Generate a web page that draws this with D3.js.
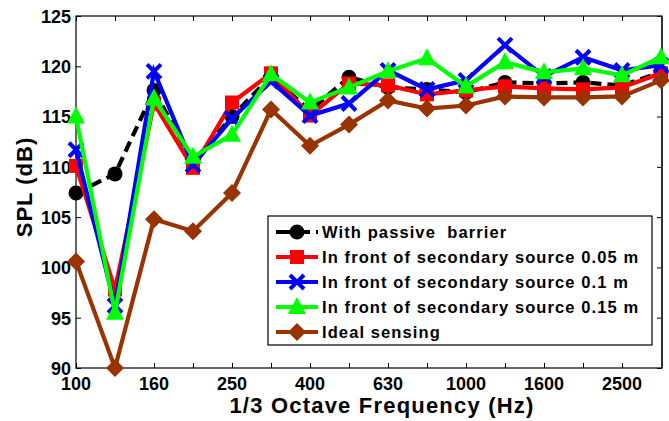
<!DOCTYPE html>
<html>
<head>
<meta charset="utf-8">
<script src="https://cdn.jsdelivr.net/npm/d3@7"></script>
<style>
  body { margin: 0; background: #fff; }
  text { font-family: "Liberation Sans", Arial, sans-serif; font-weight: bold; }
</style>
</head>
<body>
<svg id="chart" width="669" height="421"></svg>
<script>
"use strict";

// bandes de tiers d'octave
var frequences = ["100", "125", "160", "200", "250", "315", "400", "500", "630", "800", "1000", "1250", "1600", "2000", "2500", "3150"];
var etiquettesX = ["100", "160", "250", "400", "630", "1000", "1600", "2500"];
var ticksY = [90, 95, 100, 105, 110, 115, 120, 125];

var barriere = [107.4, 109.3, 117.6, 110.5, 115.0, 119.0, 115.6, 118.9, 117.9, 117.7, 117.4, 118.4, 118.3, 118.4, 118.1, 119.4];
var source005 = [110.1, 97.8, 116.3, 109.9, 116.4, 119.3, 115.1, 118.3, 118.1, 117.2, 117.6, 118.0, 117.8, 117.7, 117.9, 119.3];
var source01 = [111.7, 96.2, 119.5, 110.2, 114.8, 118.5, 115.1, 116.3, 119.6, 117.7, 118.6, 122.1, 119.0, 120.9, 119.6, 120.1];
var source015 = [115.0, 95.5, 116.8, 111.0, 113.2, 119.2, 116.4, 117.9, 119.5, 120.8, 118.0, 120.4, 119.4, 119.8, 119.1, 120.9];
var ideal = [100.6, 90.0, 104.8, 103.6, 107.4, 115.7, 112.1, 114.2, 116.6, 115.8, 116.1, 117.0, 116.9, 116.9, 117.0, 118.6];

var series = [
	{ nom: "With passive  barrier", valeurs: barriere, couleur: "#000000", marque: "cercle", tirets: "11,6" },
	{ nom: "In front of secondary source 0.05 m", valeurs: source005, couleur: "#ff0000", marque: "carre" },
	{ nom: "In front of secondary source 0.1 m", valeurs: source01, couleur: "#0000ff", marque: "croix" },
	{ nom: "In front of secondary source 0.15 m", valeurs: source015, couleur: "#00ff00", marque: "triangle" },
	{ nom: "Ideal sensing", valeurs: ideal, couleur: "#993300", marque: "losange" }
];

var marge = { left: 76, right: 662, top: 16, bottom: 368 };
var svg = d3.select("#chart");

var x = d3.scaleLinear().domain([0, frequences.length - 1]).range([marge.left, marge.right - 1]);
var y = d3.scaleLinear().domain([90, 125]).range([marge.bottom, marge.top]);

// dessin des marques
function dessinerMarque(g, type, couleur) {
	if (type === "cercle") {
		g.append("circle").attr("r", 7.5).attr("fill", couleur);
	} else if (type === "carre") {
		g.append("rect").attr("x", -7).attr("y", -7).attr("width", 14).attr("height", 14).attr("fill", couleur);
	} else if (type === "croix") {
		g.append("path").attr("d", "M-7,-7L7,7M-7,7L7,-7")
		.attr("stroke", couleur).attr("stroke-width", 4).attr("fill", "none");
	} else if (type === "triangle") {
		g.append("path").attr("d", "M0,-10L9,7L-9,7Z").attr("fill", couleur);
	} else if (type === "losange") {
		g.append("path").attr("d", "M0,-9L9,0L0,9L-9,0Z").attr("fill", couleur);
	}
}

// axes : cadre avec graduations vers l'intérieur
svg.append("g")
.attr("transform", "translate(0," + marge.bottom + ")")
.call(d3.axisBottom(x).tickValues(d3.range(frequences.length)).tickSize(-5).tickFormat(""))
.call(g => g.select(".domain").remove());

svg.append("g")
.attr("transform", "translate(0," + marge.top + ")")
.call(d3.axisTop(x).tickValues(d3.range(frequences.length)).tickSize(-5).tickFormat(""))
.call(g => g.select(".domain").remove());

svg.append("g")
.attr("transform", "translate(" + marge.left + ",0)")
.call(d3.axisLeft(y).tickValues(ticksY).tickSize(-5).tickPadding(5).tickFormat(d3.format("d")))
.call(g => g.select(".domain").remove())
.call(g => g.selectAll("text").attr("font-size", 18).attr("fill", "#000").attr("dy", "0.35em"));

svg.append("g")
.attr("transform", "translate(" + marge.right + ",0)")
.call(d3.axisRight(y).tickValues(ticksY).tickSize(-5).tickFormat(""))
.call(g => g.select(".domain").remove());

svg.selectAll(".etiquetteX")
.data(etiquettesX)
.enter()
	.append("text")
	.attr("class", "etiquetteX")
	.attr("x", d => x(frequences.indexOf(d)))
	.attr("y", 390)
	.attr("text-anchor", "middle")
	.attr("font-size", 18)
	.text(d => d);

svg.append("rect")
.attr("x", marge.left)
.attr("y", marge.top)
.attr("width", marge.right - marge.left)
.attr("height", marge.bottom - marge.top)
.attr("fill", "none")
.attr("stroke", "#000")
.attr("stroke-width", 1.2);

svg.append("line")
.attr("x1", marge.right).attr("x2", marge.right)
.attr("y1", marge.top).attr("y2", marge.bottom)
.attr("stroke", "#333").attr("stroke-width", 2);

// courbes
var ligne = d3.line().x((d, i) => x(i)).y(d => y(d));

series.forEach(function (s) {
	var g = svg.append("g");
	g.append("path")
	.attr("d", ligne(s.valeurs))
	.attr("fill", "none")
	.attr("stroke", s.couleur)
	.attr("stroke-width", 4.2)
	.attr("stroke-dasharray", s.tirets || null);
	g.selectAll("g")
	.data(s.valeurs)
	.enter()
		.append("g")
		.attr("transform", (d, i) => "translate(" + x(i) + "," + y(d) + ")")
		.each(function () { dessinerMarque(d3.select(this), s.marque, s.couleur); });
});

// légende
var legende = svg.append("g").attr("transform", "translate(268,216)");
legende.append("rect")
.attr("width", 384).attr("height", 129)
.attr("fill", "#fff").attr("stroke", "#000").attr("stroke-width", 1.2);

series.forEach(function (s, i) {
	var gl = legende.append("g").attr("transform", "translate(0," + (16 + i * 25) + ")");
	gl.append("line")
	.attr("x1", 8).attr("x2", 50)
	.attr("stroke", s.couleur).attr("stroke-width", 4)
	.attr("stroke-dasharray", s.tirets ? "14,6" : null);
	dessinerMarque(gl.append("g").attr("transform", "translate(29,0)"), s.marque, s.couleur);
	gl.append("text")
	.attr("x", 54).attr("y", 6)
	.attr("font-size", 16.5)
	.attr("letter-spacing", 1.1)
	.attr("xml:space", "preserve")
	.style("white-space", "pre")
	.text(s.nom);
});

// titres des axes
svg.append("text")
.attr("x", 382)
.attr("y", 413)
.attr("text-anchor", "middle")
.attr("font-size", 22)
.attr("letter-spacing", 1.2)
.text("1/3 Octave Frequency (Hz)");

svg.append("text")
.attr("transform", "translate(32,187) rotate(-90)")
.attr("text-anchor", "middle")
.attr("font-size", 22)
.attr("letter-spacing", 1)
.text("SPL (dB)");
</script>
</body>
</html>
